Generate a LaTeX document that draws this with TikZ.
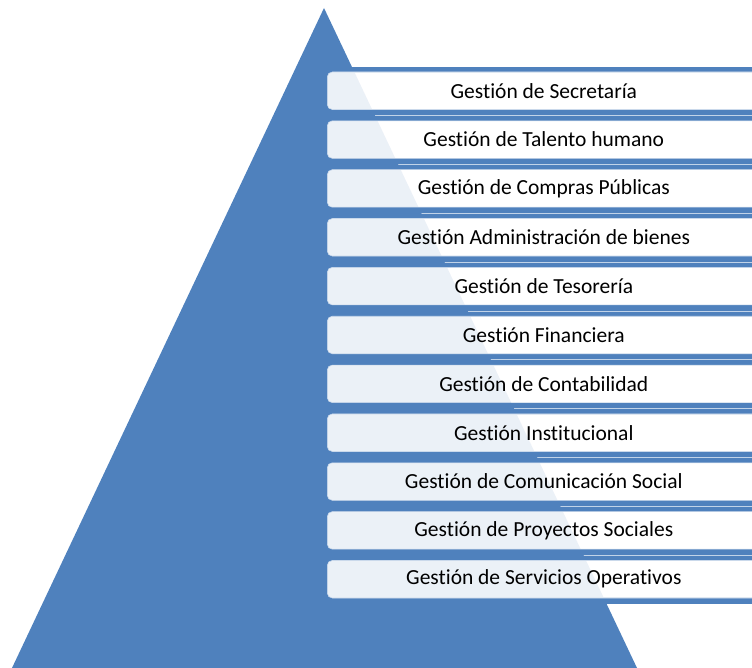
\documentclass[tikz,border=0pt]{standalone}
\usepackage{fontspec}
\setmainfont{Carlito}[Ligatures=NoCommon]
\definecolor{piramide}{HTML}{4F81BD}

\begin{document}
\begin{tikzpicture}[
    x = 1pt, y = -1pt,
    line join=round,
    caja/.style = {rounded corners=5pt, fill=white, fill opacity=0.89, text opacity=1,
        draw=piramide!30, line width=0.6pt, minimum width=433pt, minimum height=37.5pt,
        anchor=west, inner sep=0pt, font=\fontsize{21.5}{24}\selectfont, text=black},
    raya/.style = {white!65!piramide, line width=0.8pt}
]

    \useasboundingbox (0,0) rectangle (752,668);
    \clip (0,0) rectangle (752,668);

    \coordinate (apex) at (324,8);
    \coordinate (izq) at (12,668);
    \coordinate (der) at (637,668);

    % franjas azules entre las cajas
    \fill[piramide] (352,67) rectangle (752,73);
    \fill[piramide] (352,597) rectangle (752,604);
    \foreach \i [evaluate=\i as \y using 72+48.85*\i+43.5] in {0,...,9} {
        \fill[piramide] (352,\y-6) rectangle (752,\y+6);
        \draw[raya] (352,\y) -- (752,\y);
    }

    \fill[piramide] (apex) -- (izq) -- (der) -- cycle;

    \foreach \t [count=\i] in {Gestión de Secretaría, Gestión de Talento humano,
        Gestión de Compras Públicas, Gestión Administración de bienes,
        Gestión de Tesorería, Gestión Financiera, Gestión de Contabilidad,
        Gestión Institucional, Gestión de Comunicación Social,
        Gestión de Proyectos Sociales, Gestión de Servicios Operativos} {
        \node[caja] (g\i) at (327, {72+48.85*(\i-1)+18.75}) {\t};
    }

\end{tikzpicture}
\end{document}
